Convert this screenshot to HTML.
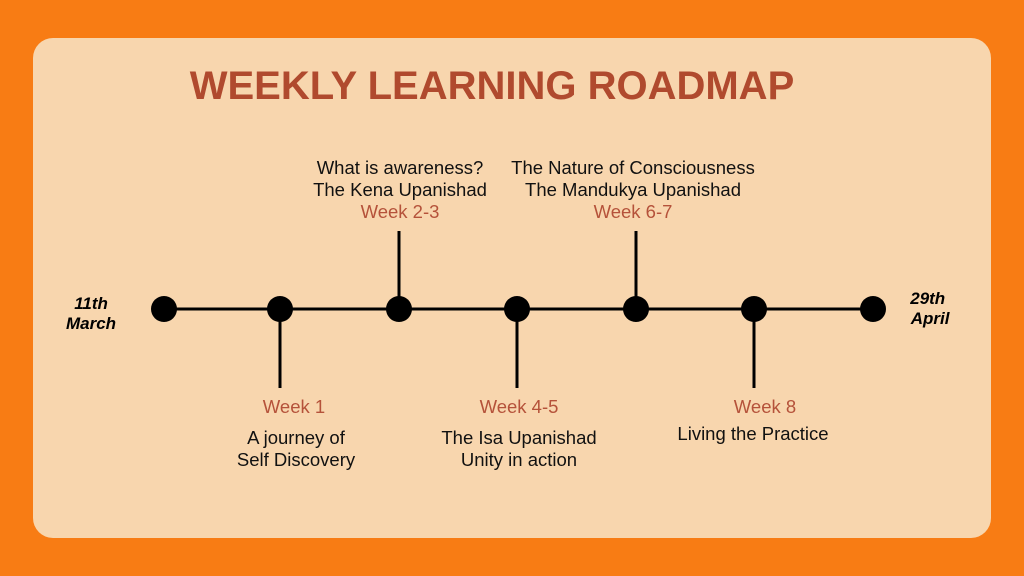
<!DOCTYPE html>
<html><head><style>
body{margin:0;width:1024px;height:576px;background:#f87c14;position:relative;overflow:hidden;font-family:"Liberation Sans",sans-serif}
.card{position:absolute;left:33px;top:38px;width:958px;height:500px;background:#f8d6ae;border-radius:20px}
.t{position:absolute;text-align:center;font-size:18.5px;line-height:22px;color:#111;white-space:nowrap;transform:translateX(-50%)}
.w{color:#b5523a}
.d{position:absolute;font-weight:900;font-style:italic;font-size:17px;line-height:20px;color:#000;text-align:center}
</style></head><body>
<div class="card"></div>
<div style="position:absolute;left:0;width:984px;top:64px;text-align:center;font-size:40px;font-weight:bold;color:#b04a2e">WEEKLY LEARNING ROADMAP</div>
<svg width="1024" height="576" style="position:absolute;left:0;top:0">
<g stroke="#000" stroke-width="3">
<line x1="164" y1="309" x2="873" y2="309"/>
<line x1="399" y1="231" x2="399" y2="309"/>
<line x1="636" y1="231" x2="636" y2="309"/>
<line x1="280" y1="309" x2="280" y2="388"/>
<line x1="517" y1="309" x2="517" y2="388"/>
<line x1="754" y1="309" x2="754" y2="388"/>
</g>
<g fill="#000">
<circle cx="164" cy="309" r="13"/><circle cx="280" cy="309" r="13"/><circle cx="399" cy="309" r="13"/><circle cx="517" cy="309" r="13"/><circle cx="636" cy="309" r="13"/><circle cx="754" cy="309" r="13"/><circle cx="873" cy="309" r="13"/>
</g></svg>
<div class="t" style="left:400px;top:157px">What is awareness?<br>The Kena Upanishad<br><span class="w">Week 2-3</span></div>
<div class="t" style="left:633px;top:157px">The Nature of Consciousness<br>The Mandukya Upanishad<br><span class="w">Week 6-7</span></div>
<div class="t w" style="left:294px;top:396px">Week 1</div>
<div class="t" style="left:296px;top:427px">A journey of<br>Self Discovery</div>
<div class="t w" style="left:519px;top:396px">Week 4-5</div>
<div class="t" style="left:519px;top:427px">The Isa Upanishad<br>Unity in action</div>
<div class="t w" style="left:765px;top:396px">Week 8</div>
<div class="t" style="left:753px;top:423px">Living the Practice</div>
<div class="d" style="left:66px;top:294px">11th<br>March</div>
<div class="d" style="left:906px;top:289px">29th<br>&nbsp;April</div>
</body></html>
